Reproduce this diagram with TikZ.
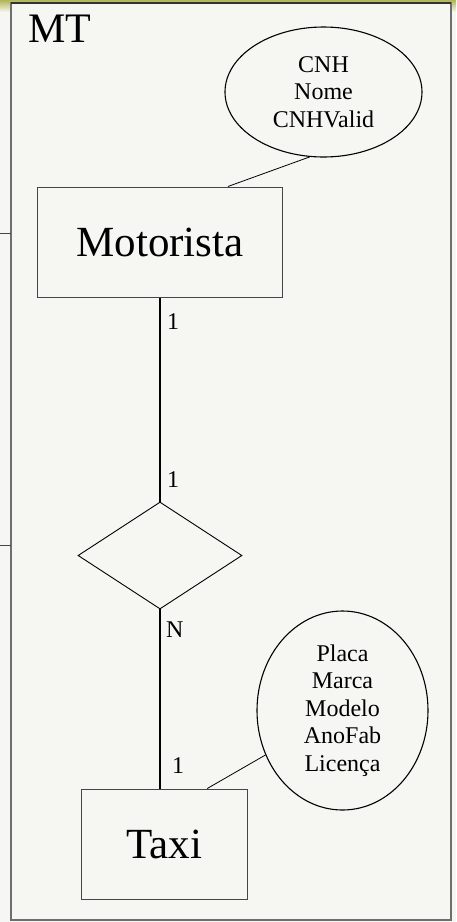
\documentclass[tikz,border=0pt]{standalone}
\usepackage{fontspec}
\setmainfont{Liberation Serif}
\usetikzlibrary{shapes.geometric,calc}
\definecolor{bgcol}{RGB}{246,246,243}
\definecolor{framecol}{RGB}{110,110,110}
\definecolor{boxcol}{RGB}{70,70,70}
\definecolor{topcol}{RGB}{178,182,84}
\tikzset{
  entity/.style={draw=boxcol, line width=1pt, rectangle, inner sep=0pt, font=\fontsize{43}{48}\selectfont},
  attr/.style={draw=black, line width=1.1pt, ellipse, inner sep=0pt, align=center, font=\fontsize{24}{27.5}\selectfont},
  rel/.style={draw=black, line width=0.9pt, diamond, inner sep=0pt},
  mainlink/.style={draw=black, line width=2.4pt},
  attrlink/.style={draw=black, line width=0.8pt},
  card/.style={anchor=base west, inner sep=0pt, font=\fontsize{24}{27}\selectfont},
  stub/.style={draw=boxcol, line width=0.9pt}
}
\begin{document}
\begin{tikzpicture}[x=1pt,y=1pt]
\useasboundingbox (0,0) rectangle (456,-922);
\fill[bgcol] (0,0) rectangle (456,-922);
\shade[top color=topcol, bottom color=bgcol] (0,0) rectangle (456,-12);
\fill[bgcol] (11,-3) rectangle (451,-920);
\draw[framecol, line width=1.5pt] (11,-3) rectangle (451,-920);
\draw[black!80, line width=1.2pt] (11,-3) -- (451,-3);
% stubs
\coordinate (s1a) at (0,-233);
\coordinate (s1b) at (11,-233);
\coordinate (s2a) at (0,-545);
\coordinate (s2b) at (11,-545);
\draw[stub] (s1a) -- (s1b);
\draw[stub] (s2a) -- (s2b);
% title
\node[anchor=base west, inner sep=0pt, font=\fontsize{42}{46}\selectfont] (title) at (28,-42) {MT};
% nodes
\node[entity, minimum width=245pt, minimum height=110pt] (mot) at (160,-242) {Motorista};
\node[entity, minimum width=166pt, minimum height=110pt] (taxi) at (164,-844) {Taxi};
\node[rel, minimum width=164pt, minimum height=107pt] (relac) at (160,-555.5) {};
\node[attr, minimum width=197pt, minimum height=130pt] (cnhattr) at (323.5,-92) {CNH\\Nome\\CNHValid};
\node[attr, minimum width=171pt, minimum height=199pt] (taxiattr) at (342.5,-710.5) {Placa\\Marca\\Modelo\\AnoFab\\Licença};
% connectors
\draw[mainlink] (mot.south) -- (relac.north);
\draw[mainlink] (relac.south) -- (relac.south |- taxi.north);
\draw[attrlink] (cnhattr.258) -- ($(mot.north west)!0.776!(mot.north east)$);
\draw[attrlink] (taxiattr.210) -- ($(taxi.north west)!0.759!(taxi.north east)$);
% cardinalities
\node[card] (c1) at (167,-329) {1};
\node[card] (c2) at (167,-487) {1};
\node[card] (c3) at (166,-637) {N};
\node[card] (c4) at (172,-773) {1};
\end{tikzpicture}
\end{document}
